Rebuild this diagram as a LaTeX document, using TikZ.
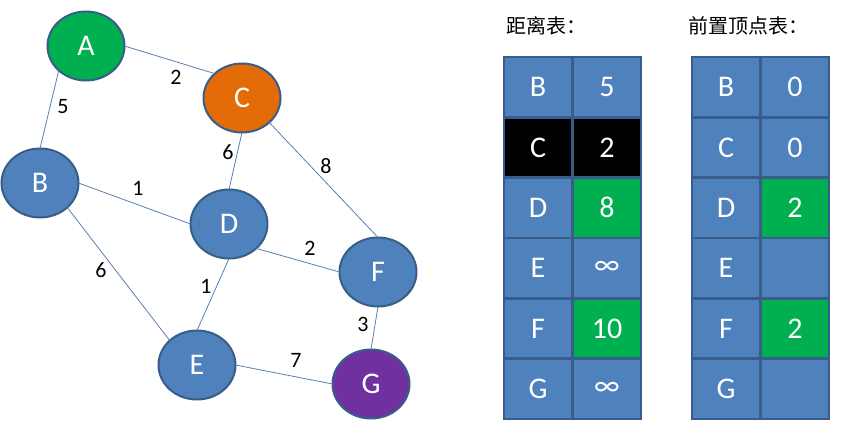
\documentclass[tikz,border=0pt]{standalone}
\usepackage{fontspec}
\setmainfont{Carlito}
\newfontfamily\cjk{Noto Sans CJK SC}
\usetikzlibrary{shapes.geometric}
\definecolor{nblue}{HTML}{4F81BD}
\definecolor{nborder}{HTML}{385D8A}
\definecolor{ngreen}{HTML}{00B050}
\definecolor{norange}{HTML}{E36C09}
\definecolor{npurple}{HTML}{7030A0}
\definecolor{edgecol}{HTML}{5B7FB0}
\tikzset{
  vert/.style={ellipse, draw=nborder, line width=2pt, fill=nblue, minimum width=77pt, minimum height=69pt, inner sep=0pt, outer sep=0pt, text=white, font=\fontsize{30}{30}\selectfont},
  conn/.style={draw=edgecol, line width=0.8pt},
  wlabel/.style={font=\fontsize{22}{22}\selectfont, text=black, inner sep=0pt},
  cell/.style={draw=nborder, line width=2.6pt, fill=nblue, minimum width=68pt, minimum height=60.3pt, inner sep=0pt, text=white, font=\fontsize{30}{30}\selectfont, anchor=center},
  title/.style={font=\cjk\fontsize{20}{20}\selectfont, anchor=west, inner sep=0pt}
}
\begin{document}
\begin{tikzpicture}[x=1pt,y=-1pt]
\useasboundingbox (0,0) rectangle (851,421);
% connectors (drawn first, under the vertices)
\coordinate (cA) at (86,46);
\coordinate (cC) at (242,98);
\coordinate (cB) at (40,183);
\coordinate (cD) at (229,224);
\coordinate (cF) at (378,272);
\coordinate (cE) at (197,365);
\coordinate (cG) at (371,384);
% vertices
\node[vert, fill=ngreen] (A) at (cA) {A};
\node[vert, fill=norange] (C) at (cC) {C};
\node[vert] (B) at (cB) {B};
\node[vert] (D) at (cD) {D};
\node[vert] (F) at (cF) {F};
\node[vert] (E) at (cE) {E};
\node[vert, fill=npurple] (G) at (cG) {G};
% connectors
\path[conn] (A.east) -- (C.north west);
\path[conn] (A.south west) -- (B.north);
\path[conn] (C.south) -- (D.north);
\path[conn] (C.south east) -- (F.north);
\path[conn] (B.east) -- (D.west);
\path[conn] (D.south east) -- (F.west);
\path[conn] (B.south east) -- (E.north west);
\path[conn] (D.south) -- (E.north);
\path[conn] (F.south) -- (G.north);
\path[conn] (E.east) -- (G.west);
% weights
\node[wlabel] (wAC) at (176,77) {2};
\node[wlabel] (wAB) at (63,107) {5};
\node[wlabel] (wCD) at (228,152) {6};
\node[wlabel] (wCF) at (326,166) {8};
\node[wlabel] (wBD) at (138,188) {1};
\node[wlabel] (wDF) at (310,248) {2};
\node[wlabel] (wBE) at (101,270) {6};
\node[wlabel] (wDE) at (206,286) {1};
\node[wlabel] (wFG) at (363,324) {3};
\node[wlabel] (wEG) at (296,360) {7};
% titles
\node[title] (t1) at (506,26) {距离表：};
\node[title] (t2) at (688,26) {前置顶点表：};
% distance table
\node[cell] (d1a) at (538,87.2) {B};   \node[cell] (d1b) at (607,87.2) {5};
\node[cell, fill=black] (d2a) at (538,147.5) {C}; \node[cell, fill=black] (d2b) at (607,147.5) {2};
\node[cell] (d3a) at (538,207.8) {D};  \node[cell, fill=ngreen] (d3b) at (607,207.8) {8};
\node[cell] (d4a) at (538,268.2) {E};  \node[cell] (d4b) at (607,268.2) {∞};
\node[cell] (d5a) at (538,328.5) {F};  \node[cell, fill=ngreen] (d5b) at (607,328.5) {10};
\node[cell] (d6a) at (538,388.8) {G};  \node[cell] (d6b) at (607,388.8) {∞};
% predecessor table
\node[cell] (p1a) at (726,87.2) {B};   \node[cell] (p1b) at (795,87.2) {0};
\node[cell] (p2a) at (726,147.5) {C};  \node[cell] (p2b) at (795,147.5) {0};
\node[cell] (p3a) at (726,207.8) {D};  \node[cell, fill=ngreen] (p3b) at (795,207.8) {2};
\node[cell] (p4a) at (726,268.2) {E};  \node[cell] (p4b) at (795,268.2) {};
\node[cell] (p5a) at (726,328.5) {F};  \node[cell, fill=ngreen] (p5b) at (795,328.5) {2};
\node[cell] (p6a) at (726,388.8) {G};  \node[cell] (p6b) at (795,388.8) {};
\end{tikzpicture}
\end{document}
